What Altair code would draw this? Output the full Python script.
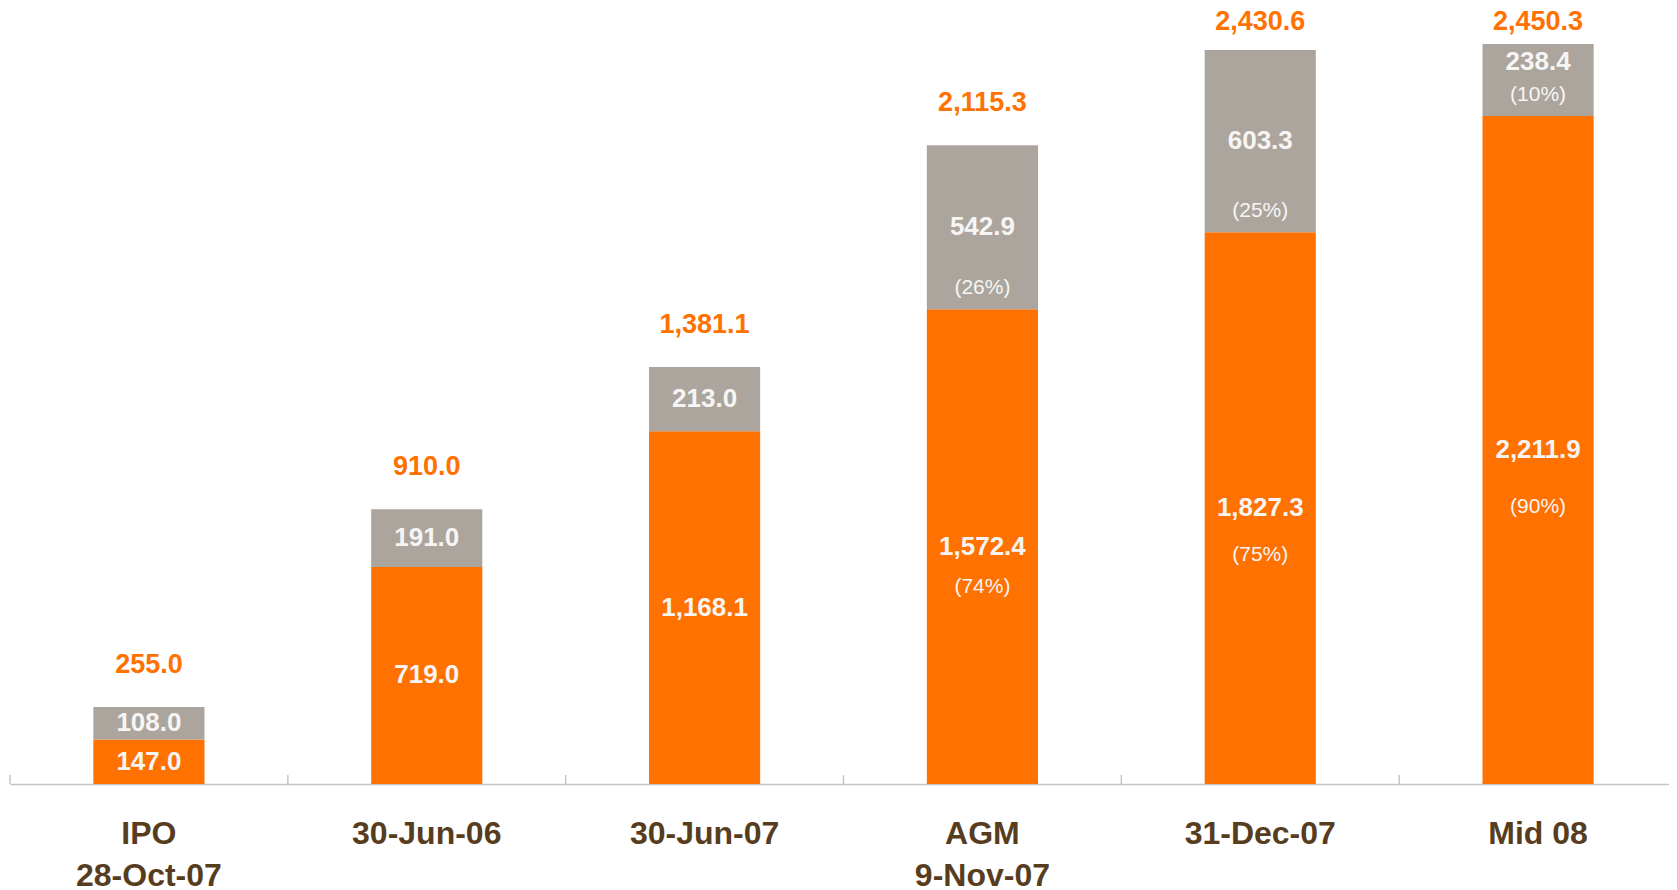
import altair as alt
import pandas as pd

# ---- data ----
categories = ["IPO|28-Oct-07", "30-Jun-06", "30-Jun-07", "AGM|9-Nov-07", "31-Dec-07", "Mid 08"]
orange_vals = [147.0, 719.0, 1168.1, 1572.4, 1827.3, 2211.9]
gray_vals = [108.0, 191.0, 213.0, 542.9, 603.3, 238.4]
totals = [255.0, 910.0, 1381.1, 2115.3, 2430.6, 2450.3]
orange_pct = ["", "", "", "(74%)", "(75%)", "(90%)"]
gray_pct = ["", "", "", "(26%)", "(25%)", "(10%)"]

ORANGE = "#FF7100"
GRAY = "#ABA59E"
BROWN = "#573D1E"
AXIS = "#C8C4BF"
WHITE = "#F7F5F3"
FONT = "Liberation Sans"

Y_MAX = 2540
W, H = 1659, 767
X_RANGE = 1667

rows = []
for c, o, g, op, gp in zip(categories, orange_vals, gray_vals, orange_pct, gray_pct):
    # orange segment (bottom)
    rows.append(dict(cat=c, series="orange", y0=0.0, y1=o, val=f"{o:,.1f}", pct=op,
                     vy=o / 2, py=0.415 * o))
    # gray segment (top)
    vy = o + g / 2 + (60 if (gp and g < 300) else 0)
    rows.append(dict(cat=c, series="gray", y0=o, y1=o + g, val=f"{g:,.1f}", pct=gp,
                     vy=vy, py=o + 70))
seg = pd.DataFrame(rows)

tot = pd.DataFrame(dict(cat=categories, total=totals,
                        label=[f"{t:,.1f}" for t in totals]))
tot["ly"] = (tot["total"] + 140).clip(upper=Y_MAX - 16)

xscale = alt.Scale(domain=categories, paddingInner=0, paddingOuter=0, range=[0, X_RANGE])
yscale = alt.Scale(domain=[0, Y_MAX], nice=False, zero=True)

x_enc = alt.X("cat:N", scale=xscale, sort=categories,
              axis=alt.Axis(title=None, labelAngle=0, ticks=False, grid=False,
                            domain=True, domainColor=AXIS, domainWidth=1.5,
                            labelFont=FONT, labelFontSize=32, labelFontWeight="bold",
                            labelColor=BROWN, labelPadding=34, labelLineHeight=42,
                            labelBaseline="top",
                            labelExpr="split(datum.label, '|')"))

bars = alt.Chart(seg).mark_bar(width=alt.RelativeBandSize(0.4)).encode(
    x=x_enc,
    y=alt.Y("y0:Q", scale=yscale, axis=None),
    y2="y1:Q",
    color=alt.Color("series:N", scale=alt.Scale(domain=["orange", "gray"],
                                                range=[ORANGE, GRAY]), legend=None),
)

val_text = alt.Chart(seg).mark_text(font=FONT, fontSize=26, fontWeight="bold",
                                    color=WHITE, baseline="middle").encode(
    x=alt.X("cat:N", scale=xscale, sort=categories),
    y=alt.Y("vy:Q", scale=yscale),
    text="val:N",
)

pct_text = alt.Chart(seg).transform_filter("datum.pct != ''").mark_text(
    font=FONT, fontSize=21, color=WHITE, baseline="middle").encode(
    x=alt.X("cat:N", scale=xscale, sort=categories),
    y=alt.Y("py:Q", scale=yscale),
    text="pct:N",
)

tot_text = alt.Chart(tot).mark_text(font=FONT, fontSize=27, fontWeight="bold",
                                    color=ORANGE, baseline="middle").encode(
    x=alt.X("cat:N", scale=xscale, sort=categories),
    y=alt.Y("ly:Q", scale=yscale),
    text="label:N",
)

ticks = alt.Chart(tot).mark_rule(color=AXIS, strokeWidth=1.5).encode(
    x=alt.X("cat:N", scale=xscale, sort=categories, bandPosition=0),
    y=alt.value(H),
    y2=alt.value(H - 9),
)

chart = alt.layer(bars, ticks, val_text, pct_text, tot_text).properties(
    width=W, height=H,
    background="white",
    autosize=alt.AutoSizeParams(type="none"),
    padding={"left": 2, "top": 9, "right": 0, "bottom": 106},
).configure_view(strokeWidth=0, stroke=None)

chart.save("out.html", embed_options={"renderer": "svg", "actions": False})
